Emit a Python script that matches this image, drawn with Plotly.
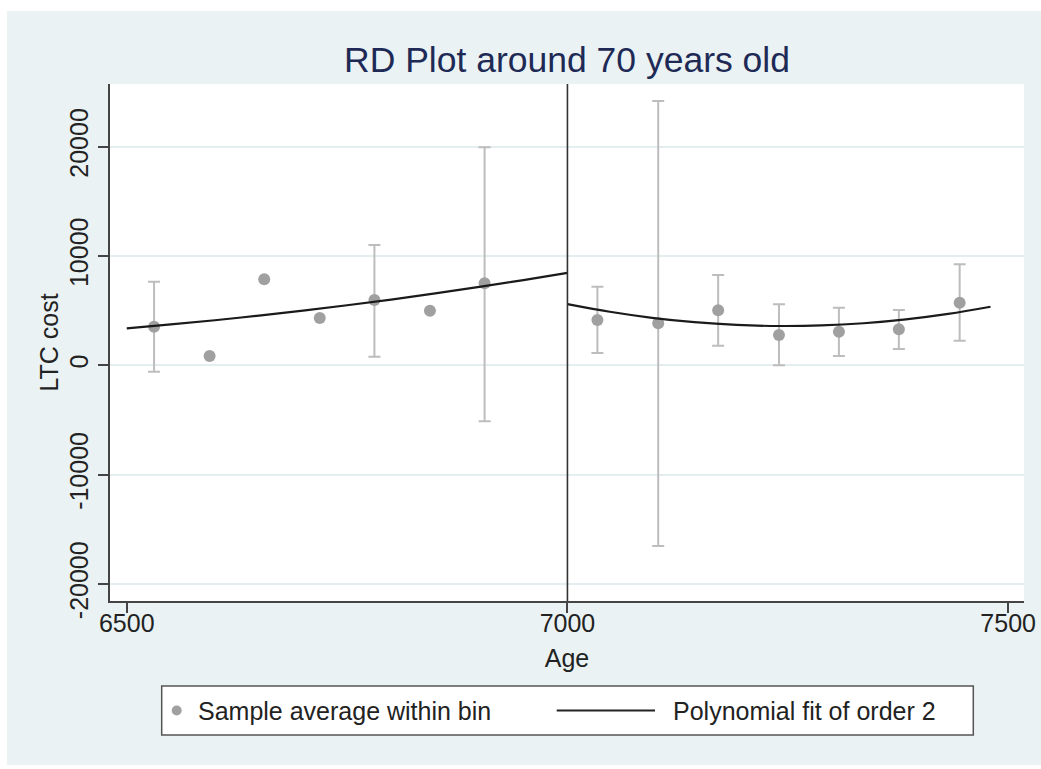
import plotly.graph_objects as go

# ---------------- data ----------------
title_text = "RD Plot around 70 years old"
x_title = "Age"
y_title = "LTC cost"
cutoff = 7000

# bins left of the cutoff
left_bin_age = [6531, 6594, 6656, 6719, 6781, 6844, 6906]
left_bin_mean = [3530, 851, 7866, 4326, 5972, 4994, 7500]
left_ci_upper = [7646, None, None, None, 11003, None, 19950]
left_ci_lower = [-585, None, None, None, 787, None, -5122]

# bins right of the cutoff
right_bin_age = [7034, 7103, 7171, 7240, 7308, 7376, 7445]
right_bin_mean = [4143, 3841, 5030, 2771, 3073, 3293, 5725]
right_ci_upper = [7189, 24173, 8259, 5579, 5268, 5058, 9237]
right_ci_lower = [1125, -16527, 1793, 0, 851, 1491, 2250]

# polynomial fit curves
left_fit_age = [6500, 6550, 6600, 6650, 6700, 6750, 6800, 6850, 6900, 6950, 7000]
left_fit_val = [3385, 3740, 4125, 4550, 5005, 5500, 6020, 6580, 7175, 7800, 8465]
right_fit_age = [7000, 7048, 7096, 7144, 7192, 7240, 7288, 7336, 7384, 7432, 7480]
right_fit_val = [5605, 4900, 4350, 3950, 3700, 3600, 3650, 3850, 4205, 4705, 5360]

x_ticks = [6500, 7000, 7500]
y_ticks = [-20000, -10000, 0, 10000, 20000]
legend_labels = ["Sample average within bin", "Polynomial fit of order 2"]

# ---------------- styling ----------------
W, H = 1041, 769
ML, MT, MB = 110, 84, 168
PLOT_RIGHT = 1024          # pixel x of the right edge of the plot area
PLOT_BOTTOM = H - MB       # pixel y of the bottom of the plot area
FONT = "Liberation Sans, Arial, Helvetica, sans-serif"
BG = "#EAF2F3"
DOT = "#A0A0A0"
CI = "#BDBDBD"
FIT = "#1A1A1A"
TXT = 25


def pshape(kind, x0, x1, y0, y1, **kw):
    """shape given in page pixels, anchored at the plot's bottom-left corner"""
    return dict(type=kind, xref="paper", yref="paper",
                xsizemode="pixel", xanchor=0, ysizemode="pixel", yanchor=0,
                x0=x0 - ML, x1=x1 - ML, y0=PLOT_BOTTOM - y0, y1=PLOT_BOTTOM - y1, **kw)


fig = go.Figure()

ages = left_bin_age + right_bin_age
means = left_bin_mean + right_bin_mean
ups = left_ci_upper + right_ci_upper
los = left_ci_lower + right_ci_lower

ci_x = [a for a, u in zip(ages, ups) if u is not None]
ci_y = [m for m, u in zip(means, ups) if u is not None]
ci_plus = [u - m for m, u in zip(means, ups) if u is not None]
ci_minus = [m - l for m, l, u in zip(means, los, ups) if u is not None]
nci_x = [a for a, u in zip(ages, ups) if u is None]
nci_y = [m for m, u in zip(means, ups) if u is None]

fig.add_trace(go.Scatter(
    x=ci_x, y=ci_y, mode="markers", name=legend_labels[0],
    marker=dict(color=DOT, size=12, line=dict(width=0)),
    error_y=dict(type="data", symmetric=False, array=ci_plus, arrayminus=ci_minus,
                 color=CI, thickness=2, width=6),
    showlegend=False,
))
fig.add_trace(go.Scatter(
    x=nci_x, y=nci_y, mode="markers", name=legend_labels[0],
    marker=dict(color=DOT, size=12, line=dict(width=0)),
    showlegend=False,
))
fig.add_trace(go.Scatter(
    x=left_fit_age, y=left_fit_val, mode="lines", name=legend_labels[1],
    line=dict(color=FIT, width=2.2, shape="spline"), showlegend=False,
))
fig.add_trace(go.Scatter(
    x=right_fit_age, y=right_fit_val, mode="lines", name=legend_labels[1],
    line=dict(color=FIT, width=2.2, shape="spline"), showlegend=False,
))

noline = dict(width=0)
shapes = [
    # white outer border strips
    pshape("rect", -30, 7, -30, H + 30, layer="below", fillcolor="white", line=noline),
    pshape("rect", -30, W + 60, -30, 11, layer="below", fillcolor="white", line=noline),
    pshape("rect", -30, W + 60, 765, H + 30, layer="below", fillcolor="white", line=noline),
    # cutoff line
    dict(type="line", xref="x", yref="paper", x0=cutoff, x1=cutoff, y0=0, y1=1,
         line=dict(color="#333333", width=1.6)),
    # legend box and keys
    pshape("rect", 161.7, 973.3, 686, 735, fillcolor="white",
           line=dict(color="#555555", width=1.5)),
    pshape("circle", 171.7, 181.7, 705.5, 715.5, fillcolor=DOT, line=noline),
    pshape("line", 556.7, 655, 710.5, 710.5, line=dict(color="#222222", width=2)),
]

annotations = [
    dict(text=legend_labels[0], xref="paper", yref="paper", x=0, y=0,
         xshift=196 - ML, yshift=PLOT_BOTTOM - 710.5,
         xanchor="left", yanchor="middle", showarrow=False,
         font=dict(family=FONT, size=TXT, color="#222222")),
    dict(text=legend_labels[1], xref="paper", yref="paper", x=0, y=0,
         xshift=671 - ML, yshift=PLOT_BOTTOM - 710.5,
         xanchor="left", yanchor="middle", showarrow=False,
         font=dict(family=FONT, size=TXT, color="#222222")),
]

fig.update_layout(
    width=W, height=H, autosize=False,
    margin=dict(l=ML, r=W - PLOT_RIGHT, t=MT, b=MB, pad=0, autoexpand=False),
    paper_bgcolor=BG, plot_bgcolor="white",
    font=dict(family=FONT, size=TXT, color="#222222"),
    title=dict(text=title_text, x=0.5, xref="paper", xanchor="center",
               y=1 - 60 / H, yanchor="middle", automargin=False,
               font=dict(family=FONT, size=35.5, color="#1E2A55")),
    shapes=shapes, annotations=annotations, showlegend=False,
    xaxis=dict(range=[6481, 7518], tickvals=x_ticks, ticktext=[str(v) for v in x_ticks],
               automargin=False,
               showgrid=False, zeroline=False, showline=True, linecolor="#444444",
               linewidth=1.5, ticks="outside", ticklen=10, tickwidth=1.5,
               tickcolor="#444444", tickfont=dict(size=TXT), ticklabelstandoff=-11,
               title=dict(text=x_title, font=dict(size=TXT), standoff=14)),
    yaxis=dict(range=[-21555, 25735], tickvals=y_ticks, ticktext=[str(v) for v in y_ticks],
               automargin=False,
               tickangle=-90, showgrid=True, gridcolor="#E4EDEF", gridwidth=1.5,
               zeroline=False, showline=True, linecolor="#444444", linewidth=1.5,
               ticks="outside", ticklen=10, tickwidth=1.5, tickcolor="#444444",
               tickfont=dict(size=TXT),
               title=dict(text=y_title, font=dict(size=TXT), standoff=0)),
)

post = (
    "var de=document.documentElement, bd=document.body;"
    "de.style.margin='0px';de.style.padding='0px';de.style.overflow='hidden';"
    "de.style.background='" + BG + "';"
    "bd.style.margin='0px';bd.style.padding='0px';bd.style.overflow='hidden';"
    "bd.style.background='" + BG + "';"
)

fig.write_html("out.html", config={"displayModeBar": False}, post_script=post)
